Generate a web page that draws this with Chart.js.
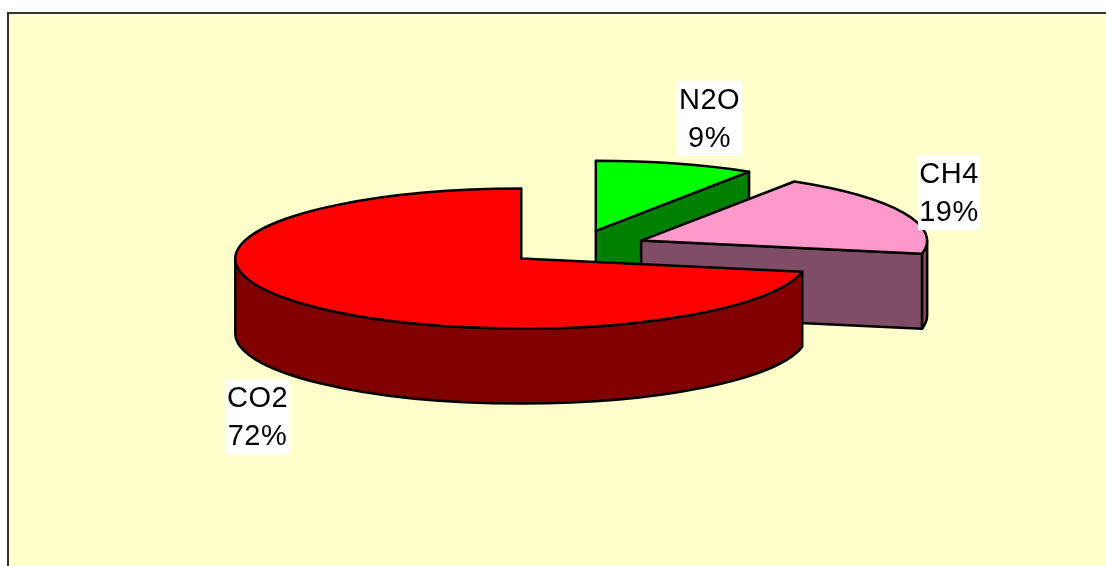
<!DOCTYPE html>
<html>
<head>
<meta charset="utf-8">
<style>
html,body{margin:0;padding:0;background:#fff;overflow:hidden}
canvas{display:block}
</style>
<script src="https://cdn.jsdelivr.net/npm/chart.js@4/dist/chart.umd.js"></script>
</head>
<body>
<canvas id="c" width="1106" height="566"></canvas>
<script>
const categories = ['N2O', 'CH4', 'CO2'];
const percentages = [9, 19, 72];
const topColors = ['#00FF00', '#FF99CC', '#FF0000'];
const wallColors = ['#008000', '#804D66', '#800000'];

const SQUASH = 70 / 286;
const DEPTH = 75;
const EXPLODE = 71;
const LINE = 2.5;

class Pie3DController extends Chart.PieController {
  update(mode) {
    super.update(mode);
    for (const arc of this._cachedMeta.data) {
      const mid = (arc.startAngle + arc.endAngle) / 2;
      arc.baseY = arc.y;
      arc.x += Math.cos(mid) * EXPLODE;
      arc.y += Math.sin(mid) * EXPLODE;
    }
  }
  draw() {
    const ctx = this.chart.ctx;
    const arcs = this._cachedMeta.data;
    arcs.forEach((arc, i) => {
      const cx = arc.x;
      const cy = arc.baseY + (arc.y - arc.baseY) * SQUASH;
      const rx = arc.outerRadius, ry = rx * SQUASH;
      const s = arc.startAngle, e = arc.endAngle;
      const pt = a => [cx + rx * Math.cos(a), cy + ry * Math.sin(a)];

      ctx.save();
      ctx.lineWidth = LINE;
      ctx.strokeStyle = '#000';
      ctx.lineJoin = 'round';
      ctx.fillStyle = wallColors[i];

      // flat cut faces that look toward the viewer
      [[e, Math.cos(e) > 1e-6], [s, Math.cos(s) < -1e-6]].forEach(([a, show]) => {
        if (!show) return;
        const [x, y] = pt(a);
        ctx.beginPath();
        ctx.moveTo(cx, cy);
        ctx.lineTo(x, y);
        ctx.lineTo(x, y + DEPTH);
        ctx.lineTo(cx, cy + DEPTH);
        ctx.closePath();
        ctx.fill();
        ctx.stroke();
      });

      // curved outer wall on the front half
      const a = Math.max(s, 0), b = Math.min(e, Math.PI);
      if (b > a) {
        ctx.beginPath();
        ctx.ellipse(cx, cy, rx, ry, 0, a, b, false);
        ctx.ellipse(cx, cy + DEPTH, rx, ry, 0, b, a, true);
        ctx.closePath();
        ctx.fill();
        ctx.stroke();
      }
      ctx.restore();

      // top face: the library's own arc, squashed
      ctx.save();
      ctx.translate(0, arc.baseY);
      ctx.scale(1, SQUASH);
      ctx.translate(0, -arc.baseY);
      arc.draw(ctx, this.chart.chartArea);
      ctx.restore();

      ctx.save();
      ctx.lineWidth = LINE;
      ctx.strokeStyle = '#000';
      ctx.lineJoin = 'round';
      ctx.beginPath();
      ctx.moveTo(cx, cy);
      ctx.ellipse(cx, cy, rx, ry, 0, s, e, false);
      ctx.closePath();
      ctx.stroke();
      ctx.restore();
    });
  }
}
Pie3DController.id = 'pie3d';
Pie3DController.defaults = Chart.PieController.defaults;
Pie3DController.overrides = Chart.PieController.overrides;
Chart.register(Pie3DController);

const frame = {
  id: 'frame',
  beforeDraw(chart) {
    const { ctx, width, height } = chart;
    ctx.save();
    ctx.fillStyle = '#FFFFCC';
    ctx.fillRect(8, 13, width - 8, height - 13);
    ctx.strokeStyle = '#333';
    ctx.lineWidth = 2;
    ctx.beginPath();
    ctx.moveTo(8, height);
    ctx.lineTo(8, 13);
    ctx.lineTo(width, 13);
    ctx.stroke();
    ctx.restore();
  }
};

const labelCentres = [[709.5, 118.5], [949, 192.5], [257.5, 417]];
const labels = {
  id: 'sliceLabels',
  afterDatasetsDraw(chart) {
    const ctx = chart.ctx;
    ctx.save();
    ctx.font = '29px "Liberation Sans", Arial, sans-serif';
    ctx.textAlign = 'center';
    ctx.textBaseline = 'middle';
    ctx.letterSpacing = '0.5px';
    const boxW = [65, 62, 65];
    categories.forEach((name, i) => {
      const [x, y] = labelCentres[i];
      const pct = percentages[i] + '%';
      ctx.fillStyle = '#fff';
      ctx.fillRect(x - boxW[i] / 2, y - 37.5, boxW[i], 75);
      ctx.fillStyle = '#000';
      ctx.fillText(name, x, y - 18);
      ctx.fillText(pct, x, y + 20);
    });
    ctx.restore();
  }
};

new Chart(document.getElementById('c'), {
  type: 'pie3d',
  data: {
    labels: categories,
    datasets: [{
      data: percentages,
      backgroundColor: topColors,
      borderWidth: 0,
      radius: 286
    }]
  },
  options: {
    responsive: false,
    animation: false,
    events: [],
    layout: { padding: { left: 46, bottom: 71 } },
    plugins: { legend: { display: false }, tooltip: { enabled: false } }
  },
  plugins: [frame, labels]
});
</script>
</body>
</html>
